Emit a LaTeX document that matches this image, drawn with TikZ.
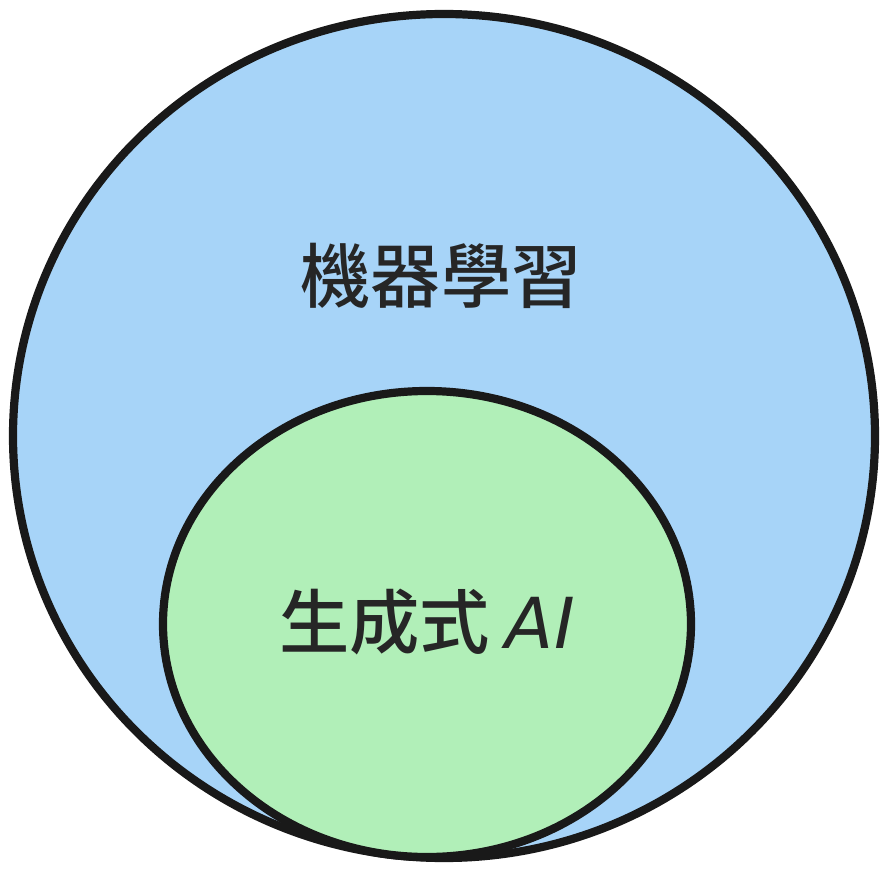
\documentclass[tikz,border=0pt]{standalone}
\usepackage{fontspec}
\newfontfamily\cjkfont{Noto Sans CJK TC Medium}
\newfontfamily\aifont{DejaVu Sans}
\definecolor{mlblue}{HTML}{A7D4F8}
\definecolor{gengreen}{HTML}{B1EFB8}
\tikzset{
  setline/.style={draw=black!90, line width=7pt},
  setlabel/.style={font=\cjkfont\fontsize{60}{60}\selectfont, text=black!85, inner sep=0pt}
}

\begin{document}
\begin{tikzpicture}[x=0.03cm, y=-0.03cm]
  \useasboundingbox (0, 0) rectangle (887, 874);
  \fill[white] (0, 0) rectangle (887, 874);
  \draw[setline, fill=mlblue] (444, 436) ellipse (431 and 422);
  \draw[setline, fill=gengreen] (427, 624) ellipse (264 and 233);
  \node[setlabel] (ml) at (441, 276) {機器學習};
  \node[setlabel] (genai) at (427, 622) {生成式 {\aifont\itshape AI}};
\end{tikzpicture}
\end{document}
